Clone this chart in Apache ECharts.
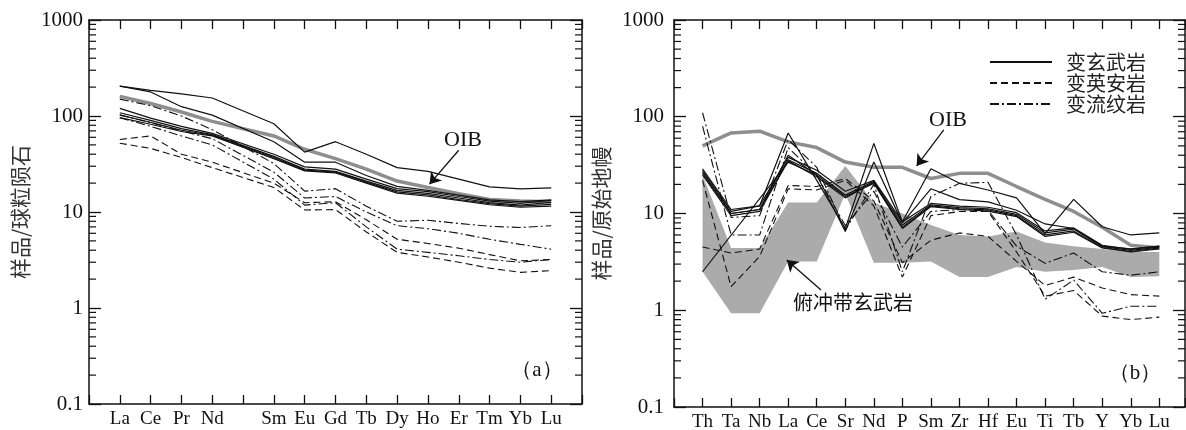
<!DOCTYPE html>
<html>
<head>
<meta charset="utf-8">
<script src="https://cdn.jsdelivr.net/npm/echarts@6/dist/echarts.min.js"></script>
<style>
  html, body { margin: 0; padding: 0; background: #fff; }
  #chart { width: 1186px; height: 430px; }
</style>
</head>
<body>
<div id="chart"></div>
<script>
// ---------- (a) chondrite-normalised REE patterns ----------
// '' marks the Pm slot: it has a tick but no label and no data
const REE_LABELS = ['La','Ce','Pr','Nd','','Sm','Eu','Gd','Tb','Dy','Ho','Er','Tm','Yb','Lu'];

// 变玄武岩 (solid)
const REE_BASALT_1 = [205,185,170,154,null,83,42,54,40,29,26.5,22,18.3,17.4,17.8];
const REE_BASALT_2 = [205,178,125,102,null,54,33,33,24,18.5,16.8,15,13.4,12.8,13.4];
const REE_BASALT_3 = [120,95,78,66,null,40,29.5,28,22,17.5,16.3,14.5,13,12.3,13.2];
const REE_BASALT_4 = [108,90,74,64,null,38,28,26.5,21,16.8,15.6,14,12.5,11.8,12.6];
const REE_BASALT_5 = [102,86,71,63,null,37,27.3,26,20.5,16.2,15.1,13.5,12.2,11.5,12];
const REE_BASALT_6 = [96,82,69,62,null,36,26.8,25.5,20,15.7,14.6,13.2,11.9,11.2,11.5];
// 变英安岩 (dashed)
const REE_DACITE_1 = [57,62,40,33,null,20,12.5,12.8,8.3,5.2,4.7,4.2,3.6,3.1,3.2];
const REE_DACITE_2 = [52,46,37,29,null,18,10.5,10.6,6.2,3.8,3.4,3.0,2.6,2.35,2.45];
// 变流纹岩 (dash-dot)
const REE_RHYOLITE_1 = [150,128,100,72,null,32,16.5,17.5,11.5,8.0,8.2,7.6,7.1,6.9,7.2];
const REE_RHYOLITE_2 = [103,85,70,58,null,26,14,14.5,10,7.2,6.7,6.0,5.2,4.6,4.1];
const REE_RHYOLITE_3 = [96,78,62,50,null,22,11.8,12.5,7.0,4.1,3.8,3.5,3.2,3.0,3.2];
// OIB reference curve
const REE_OIB = [160,135,110,88,null,62,45,36,28,21,18,15.5,13.5,13,12.8];

// ---------- (b) primitive-mantle-normalised spider diagram ----------
const TRACE_LABELS = ['Th','Ta','Nb','La','Ce','Sr','Nd','P','Sm','Zr','Hf','Eu','Ti','Tb','Y','Yb','Lu'];

const PM_BASALT_1 = [28,10.5,12,68,22,7,53,8.2,29,20.5,17.5,14.5,6.2,14,7.3,6.0,6.3];
const PM_BASALT_2 = [26,10,11,40,25,6.5,34,8.0,18,13.9,13.2,10.8,7.8,7.0,4.6,4.3,4.6];
const PM_BASALT_3 = [29,11,12,38,28,17,22,8.2,12.7,11.9,11.6,10.2,6.6,7.1,4.7,4.25,4.6];
const PM_BASALT_4 = [27,10,11,36,26,15.5,21.5,7.6,12.3,11.5,11.2,9.8,6.3,6.9,4.55,4.15,4.5];
const PM_BASALT_5 = [25,9.5,10.5,35,24,14.5,21,7.2,12,11.2,10.9,9.5,6.0,6.6,4.45,4.05,4.4];
const PM_BASALT_6 = [2.5,null,null,34,25,15,20.5,7.0,11.8,11,10.6,9.3,5.8,6.4,4.4,4.0,4.3];
const PM_DACITE_1 = [4.5,3.9,4.3,19.5,19,23,13.5,3.1,5.3,6.3,5.8,3.2,1.8,2.2,1.7,1.45,1.4];
const PM_DACITE_2 = [22,1.75,3.6,18,17.5,22,12,2.2,9.5,10.5,10.5,4,1.4,1.6,0.87,0.8,0.85];
const PM_RHYOLITE_1 = [110,9.1,9.5,58,30,6.8,20,2.5,15,20.5,21,6,1.3,2.05,0.93,1.1,1.1];
const PM_RHYOLITE_2 = [80,6.0,6.0,48,25,7.5,17,4.5,10.5,11,10.8,4.6,3.05,3.9,2.5,2.3,2.5];
const PM_OIB = [50,68,71,55,48,34,30,30,23,26,26,19,14,10.5,7.2,4.7,4.4];
// field of subduction-zone basalts (upper / lower envelope)
const ARC_UPPER = [25,4.4,4.4,13,13,31,13,10,7.6,6.0,5.8,6.5,5.0,4.6,4.3,4.0,4.0];
const ARC_LOWER = [2.5,0.93,0.93,3.2,3.2,16,3.1,3.1,3.2,2.2,2.2,2.8,2.5,2.6,2.8,2.2,2.25];

// log-axis minor ticks at 2..9 of each decade
const MINOR_TICKS = [];
for (let k = -1; k <= 2; k++) for (let m = 2; m <= 9; m++) MINOR_TICKS.push(m * Math.pow(10, k));

const INK = '#111';
const SERIF = '"Liberation Serif", "Times New Roman", serif';
const CJK = '"Noto Sans CJK SC", sans-serif';
const NAME_BASALT = '变玄武岩', NAME_DACITE = '变英安岩', NAME_RHYOLITE = '变流纹岩';

const STYLE = {
  solid:   { color: INK, width: 1.2, type: 'solid' },
  dashed:  { color: INK, width: 1.1, type: [7, 4] },
  dashdot: { color: INK, width: 1.1, type: [9, 3, 2, 3] }
};

function toPoints(values) {
  return values.map((v, i) => [i + 1, v]).filter(p => p[1] != null);
}

function line(name, values, style, panel) {
  return {
    type: 'line', name, xAxisIndex: panel * 2, yAxisIndex: panel * 2,
    data: toPoints(values), symbol: 'none', silent: true, z: 4,
    itemStyle: { color: INK },
    lineStyle: style, emphasis: { disabled: true }, animation: false
  };
}

function arrowLines(pairs) {
  return {
    silent: true, symbol: ['none', 'arrow'], symbolSize: 11, animation: false,
    label: { show: false }, emphasis: { disabled: true },
    lineStyle: { color: INK, width: 1.3, type: 'solid' },
    data: pairs.map(([a, b]) => [{ coord: a }, { coord: b }])
  };
}

function xAxes(panel, max, labels) {
  const common = {
    type: 'value', gridIndex: panel, min: 0, max, interval: 1,
    splitLine: { show: false },
    axisLine: { show: true, onZero: false, lineStyle: { color: INK, width: 1.5 } },
    axisTick: { show: true, inside: true, length: 9, lineStyle: { color: INK, width: 1.3 } }
  };
  return [
    { ...common, position: 'bottom',
      axisLabel: { show: true, margin: 6, color: INK, fontFamily: SERIF, fontSize: 19,
        formatter: v => (Number.isInteger(v) && labels[v - 1]) ? labels[v - 1] : '' } },
    { ...common, position: 'top', axisLabel: { show: false } }
  ];
}

function yAxes(panel, title, nameGap, labelMargin) {
  const common = {
    type: 'log', logBase: 10, gridIndex: panel, min: 0.1, max: 1000,
    splitLine: { show: false }, minorTick: { show: false }, minorSplitLine: { show: false },
    axisLine: { show: true, onZero: false, lineStyle: { color: INK, width: 1.5 } },
    axisTick: { show: true, inside: true, length: 12, lineStyle: { color: INK, width: 1.3 } }
  };
  return [
    { ...common, position: 'left',
      name: title, nameLocation: 'middle', nameGap, nameRotate: 90,
      nameTextStyle: { fontFamily: CJK, fontSize: 21, color: '#333' },
      axisLabel: { margin: labelMargin, color: INK, fontFamily: SERIF, fontSize: 21,
        formatter: v => String(+Number(v).toPrecision(3)) } },
    { ...common, position: 'right', axisLabel: { show: false } }
  ];
}

function minorTicks(panel, side) {
  return {
    type: 'custom', xAxisIndex: panel * 2, yAxisIndex: panel * 2, silent: true, z: 6,
    animation: false, clip: false,
    data: MINOR_TICKS.map(v => [1, v]),
    renderItem(params, api) {
      const y = api.coord([1, api.value(1)])[1];
      const cs = params.coordSys;
      const x0 = side === 'left' ? cs.x : cs.x + cs.width;
      const x1 = side === 'left' ? x0 + 7 : x0 - 7;
      return { type: 'line', shape: { x1: x0, y1: y, x2: x1, y2: y },
        style: { stroke: INK, lineWidth: 1.2 } };
    }
  };
}

const arcField = {
  type: 'custom', xAxisIndex: 2, yAxisIndex: 2, silent: true, z: 1, animation: false,
  data: [[1, ARC_UPPER[0]]],
  renderItem(params, api) {
    const top = ARC_UPPER.map((v, i) => api.coord([i + 1, v]));
    const bottom = ARC_LOWER.map((v, i) => api.coord([i + 1, v])).reverse();
    return { type: 'polygon', shape: { points: top.concat(bottom) }, style: { fill: '#ababab' } };
  }
};

const oibLeft = {
  type: 'line', name: 'OIB', xAxisIndex: 0, yAxisIndex: 0, data: toPoints(REE_OIB),
  symbol: 'none', silent: true, z: 3, animation: false,
  lineStyle: { color: '#8e8e8e', width: 3.5 }, emphasis: { disabled: true },
  markLine: arrowLines([[[12, 44], [11.05, 19.5]]])
};
const oibRight = {
  type: 'line', name: 'OIB', xAxisIndex: 2, yAxisIndex: 2, data: toPoints(PM_OIB),
  symbol: 'none', silent: true, z: 3, animation: false,
  lineStyle: { color: '#8e8e8e', width: 3.5 }, emphasis: { disabled: true },
  markLine: arrowLines([[[9.45, 73], [8.5, 31]], [[5.15, 1.62], [3.95, 3.3]]])
};

const series = [
  oibLeft,
  line(NAME_BASALT, REE_BASALT_1, STYLE.solid, 0),
  line(NAME_BASALT, REE_BASALT_2, STYLE.solid, 0),
  line(NAME_BASALT, REE_BASALT_3, STYLE.solid, 0),
  line(NAME_BASALT, REE_BASALT_4, STYLE.solid, 0),
  line(NAME_BASALT, REE_BASALT_5, STYLE.solid, 0),
  line(NAME_BASALT, REE_BASALT_6, STYLE.solid, 0),
  line(NAME_DACITE, REE_DACITE_1, STYLE.dashed, 0),
  line(NAME_DACITE, REE_DACITE_2, STYLE.dashed, 0),
  line(NAME_RHYOLITE, REE_RHYOLITE_1, STYLE.dashdot, 0),
  line(NAME_RHYOLITE, REE_RHYOLITE_2, STYLE.dashdot, 0),
  line(NAME_RHYOLITE, REE_RHYOLITE_3, STYLE.dashdot, 0),
  arcField,
  oibRight,
  line(NAME_BASALT, PM_BASALT_1, STYLE.solid, 1),
  line(NAME_BASALT, PM_BASALT_2, STYLE.solid, 1),
  line(NAME_BASALT, PM_BASALT_3, STYLE.solid, 1),
  line(NAME_BASALT, PM_BASALT_4, STYLE.solid, 1),
  line(NAME_BASALT, PM_BASALT_5, STYLE.solid, 1),
  line(NAME_BASALT, PM_BASALT_6, STYLE.solid, 1),
  line(NAME_DACITE, PM_DACITE_1, STYLE.dashed, 1),
  line(NAME_DACITE, PM_DACITE_2, STYLE.dashed, 1),
  line(NAME_RHYOLITE, PM_RHYOLITE_1, STYLE.dashdot, 1),
  line(NAME_RHYOLITE, PM_RHYOLITE_2, STYLE.dashdot, 1),
  minorTicks(0, 'left'), minorTicks(0, 'right'),
  minorTicks(1, 'left'), minorTicks(1, 'right')
];

function label(text, x, y, font, align) {
  return { type: 'text', x, y, silent: true, z: 10,
    style: { text, font, fill: INK, align: align || 'center', verticalAlign: 'middle' } };
}

const chart = echarts.init(document.getElementById('chart'), null, { renderer: 'canvas' });
chart.setOption({
  backgroundColor: '#fff',
  animation: false,
  grid: [
    { left: 89, right: 604, top: 20, bottom: 26, containLabel: false, outerBoundsMode: 'none' },
    { left: 674, right: 1, top: 20, bottom: 23, containLabel: false, outerBoundsMode: 'none' }
  ],
  xAxis: [...xAxes(0, 16, REE_LABELS), ...xAxes(1, 17.9, TRACE_LABELS)],
  yAxis: [...yAxes(0, '样品/球粒陨石', 58, 6), ...yAxes(1, '样品/原始地幔', 62, 10)],
  legend: {
    orient: 'vertical', left: 984, top: 47, itemWidth: 62, itemHeight: 14, itemGap: 1,
    selectedMode: false,
    itemStyle: { opacity: 0 },
    data: [NAME_BASALT, NAME_DACITE, NAME_RHYOLITE],
    textStyle: { fontFamily: CJK, fontSize: 20, color: '#222', padding: [0, 0, 0, 9] }
  },
  tooltip: { show: false },
  graphic: [
    label('OIB', 463, 140, '22px ' + SERIF),
    label('OIB', 948, 120, '22px ' + SERIF),
    label('俯冲带玄武岩', 793, 302, '20px ' + CJK, 'left'),
    label('（a）', 537, 370, '21px ' + SERIF),
    label('（b）', 1135, 373, '21px ' + SERIF)
  ],
  series
});
</script>
</body>
</html>
